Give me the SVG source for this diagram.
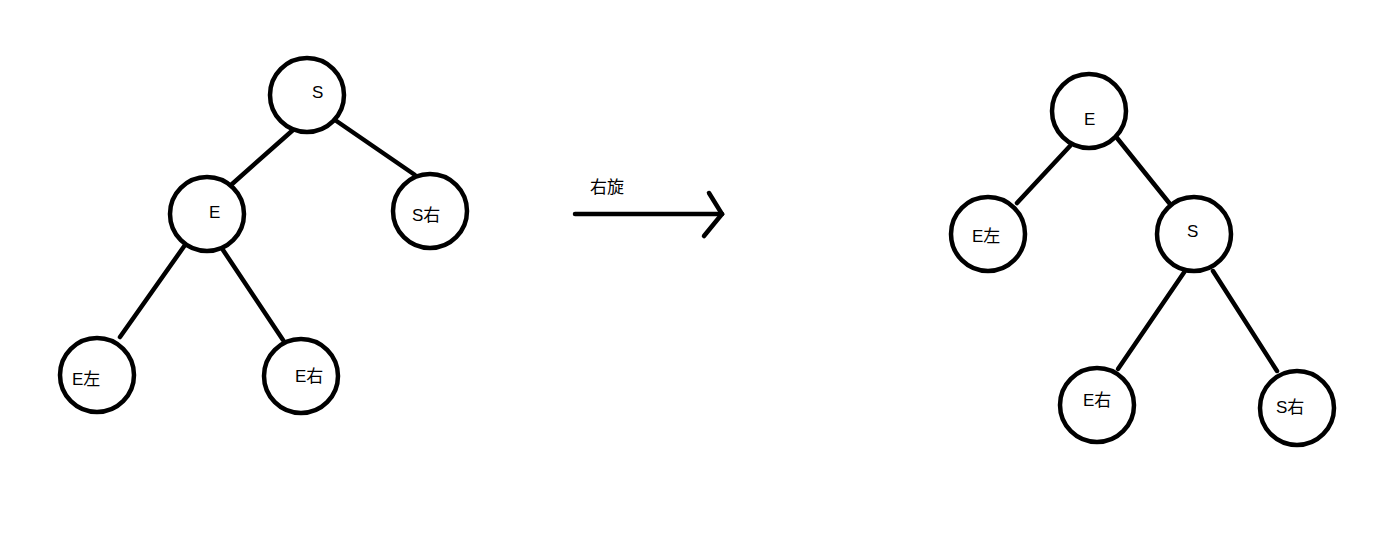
<svg xmlns="http://www.w3.org/2000/svg" width="1380" height="539" viewBox="0 0 1380 539">
<style>
.n circle{fill:#fff;stroke:#000;stroke-width:4.5}
text{font-family:"Liberation Sans","Noto Sans CJK SC",sans-serif;font-size:17px;fill:#000}
.c line,.c polyline{stroke:#000;stroke-width:4.5;stroke-linecap:round;fill:none}
</style>
<rect width="1380" height="539" fill="#fff"/>
<g class="c" id="connectors">
<line x1="293" y1="130" x2="231" y2="185"/>
<line x1="335" y1="120" x2="415" y2="175"/>
<line x1="185" y1="245" x2="120" y2="337"/>
<line x1="223" y1="250" x2="283" y2="340"/>
<line x1="1070" y1="146" x2="1017" y2="203"/>
<line x1="1117" y1="138" x2="1170" y2="204"/>
<line x1="1185" y1="271" x2="1118" y2="369"/>
<line x1="1213" y1="271" x2="1277" y2="371"/>
<line x1="575" y1="214" x2="722" y2="214"/>
<polyline points="709,193 722,214 704,236"/>
</g>
<g id="label-rotate"><text x="590" y="193">右旋</text></g>
<g class="n" id="L-S"><circle cx="307" cy="95" r="37"/><text x="312" y="98">S</text></g>
<g class="n" id="L-E"><circle cx="207" cy="214" r="37"/><text x="209" y="218">E</text></g>
<g class="n" id="L-SR"><circle cx="430" cy="211" r="37"/><text x="412" y="221">S右</text></g>
<g class="n" id="L-EL"><circle cx="97" cy="375" r="37"/><text x="72" y="385">E左</text></g>
<g class="n" id="L-ER"><circle cx="301" cy="376" r="37"/><text x="295" y="382">E右</text></g>
<g class="n" id="R-E"><circle cx="1089" cy="111" r="37"/><text x="1084" y="125">E</text></g>
<g class="n" id="R-EL"><circle cx="988" cy="234" r="37"/><text x="972" y="242">E左</text></g>
<g class="n" id="R-S"><circle cx="1194" cy="234" r="37"/><text x="1187" y="237">S</text></g>
<g class="n" id="R-ER"><circle cx="1097" cy="405" r="37"/><text x="1083" y="406">E右</text></g>
<g class="n" id="R-SR"><circle cx="1297" cy="408" r="37"/><text x="1276" y="413">S右</text></g>
</svg>
